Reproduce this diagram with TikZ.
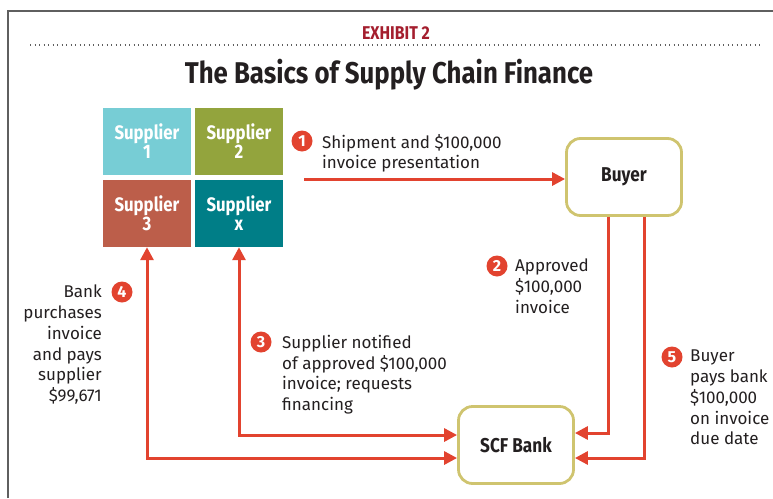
\documentclass[tikz,border=0pt]{standalone}
\usepackage{fontspec}
\setmainfont{Fira Sans}
\newfontfamily\condfont[FakeStretch=0.86]{Fira Sans}
\usetikzlibrary{arrows.meta}

\definecolor{supcyan}{HTML}{77CDD5}
\definecolor{supolive}{HTML}{93A43D}
\definecolor{supbrick}{HTML}{BC5E4A}
\definecolor{supteal}{HTML}{007E87}
\definecolor{flowred}{HTML}{E2432F}
\definecolor{boxline}{HTML}{CFC46F}
\definecolor{exhred}{HTML}{A41E2E}
\definecolor{inkdark}{HTML}{231F20}
\definecolor{framegray}{HTML}{5F5F5F}

\tikzset{
  supbox/.style={rectangle, inner sep=0, minimum width=88pt, minimum height=67pt,
    text=white, align=center, font=\condfont\bfseries\fontsize{19.5}{19}\selectfont},
  party/.style={rectangle, rounded corners=14pt, draw=boxline, line width=2.8pt,
    inner sep=0, minimum width=115pt, minimum height=77pt, text=inkdark,
    font=\condfont\bfseries\fontsize{20}{20}\selectfont},
  badge/.style={circle, fill=flowred, inner sep=0, minimum size=21pt, text=white,
    font=\bfseries\fontsize{16}{16}\selectfont},
  note/.style={inner sep=0, text=inkdark, font=\fontsize{17}{20.7}\selectfont},
  flow/.style={draw=flowred, line width=3pt, -{Triangle[length=13pt,width=13pt]}},
  flowboth/.style={draw=flowred, line width=3pt,
    {Triangle[length=13pt,width=13pt]}-{Triangle[length=13pt,width=13pt]}}
}

\begin{document}
\begin{tikzpicture}[x=1pt, y=-1pt]
	\useasboundingbox (0,0) rectangle (773,498);
	% Frame, heading and dotted rule:
	\draw[framegray, line width=1.4pt] (8,498) -- (8,11) -- (773,11);
	\draw[framegray, line width=1.3pt, dash pattern=on 1.3pt off 3.2pt] (30,45) -- (761,45);
	\node[text=exhred, font=\condfont\bfseries\fontsize{18.5}{18}\selectfont] (Exhibit) at (396,33) {EXHIBIT 2};
	\node[text=inkdark, font=\condfont\bfseries\fontsize{30}{30}\selectfont] (Title) at (389,75) {The Basics of Supply Chain Finance};

	% Supplier tiles:
	\node[supbox, fill=supcyan] (S1) at (147,141.5) {Supplier\\1};
	\node[supbox, fill=supolive] (S2) at (239,141.5) {Supplier\\2};
	\node[supbox, fill=supbrick] (S3) at (147,213.5) {Supplier\\3};
	\node[supbox, fill=supteal] (Sx) at (239,213.5) {Supplier\\x};

	% Buyer and bank:
	\node[party] (Buyer) at (624,177) {Buyer};
	\node[party] (Bank) at (516,445) {SCF Bank};

	% Flows:
	\coordinate (Ship) at (304,179);
	\draw[flow] (Ship) -- (Buyer.west |- Ship);
	\draw[flow] ([xshift=-16pt]Buyer.south) |- ([yshift=12pt]Bank.east);
	\draw[flow] ([xshift=20pt]Buyer.south) |- ([yshift=-13pt]Bank.east);
	\draw[flowboth] ([yshift=10pt]Bank.west) -| (Sx.south);
	\draw[flowboth] ([yshift=-13pt]Bank.west) -| (S3.south);

	% Numbered notes:
	\node[badge] (B1) at (302,141) {1};
	\node[note, anchor=north west, align=left] (N1) at (322,134) {Shipment and \$100,000\\invoice presentation};
	\node[badge] (B2) at (497,266) {2};
	\node[note, anchor=north west, align=left] (N2) at (515,259) {Approved\\\$100,000\\invoice};
	\node[badge] (B3) at (261,342) {3};
	\node[note, anchor=north west, align=left] (N3) at (282,335) {Supplier notified\\of approved \$100,000\\invoice; requests\\financing};
	\node[badge] (B4) at (122,292) {4};
	\node[note, anchor=north east, align=right] (N4) at (102,285) {Bank\\purchases\\invoice\\and pays\\supplier\\\$99,671};
	\node[badge] (B5) at (672,357) {5};
	\node[note, anchor=north west, align=left] (N5) at (690,350) {Buyer\\pays bank\\\$100,000\\on invoice\\due date};
\end{tikzpicture}
\end{document}
